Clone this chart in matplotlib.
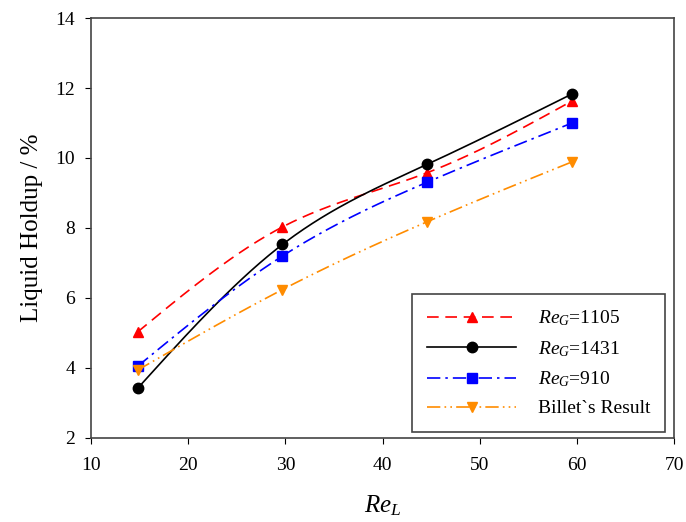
import matplotlib.pyplot as plt
import numpy as np

plt.rcParams['font.family'] = ['Liberation Serif', 'DejaVu Serif']
plt.rcParams['mathtext.fontset'] = 'custom'
plt.rcParams['mathtext.rm'] = 'Liberation Serif'
plt.rcParams['mathtext.it'] = 'Liberation Serif:italic'

# Liquid Reynolds number
re_l = [14.8, 29.7, 44.6, 59.5]
# Liquid holdup (%) for each gas Reynolds number
hold_1105 = [5.03, 8.03, 9.58, 11.63]
hold_1431 = [3.42, 7.53, 9.82, 11.83]
hold_910 = [4.05, 7.20, 9.31, 11.00]
hold_billet = [3.94, 6.24, 8.18, 9.89]


def spline(x, y, n=200):
    # natural cubic spline for a smooth curve through the points
    x = np.asarray(x, float)
    y = np.asarray(y, float)
    k = len(x)
    h = np.diff(x)
    A = np.zeros((k, k))
    b = np.zeros(k)
    A[0, 0] = A[-1, -1] = 1
    for i in range(1, k - 1):
        A[i, i - 1] = h[i - 1]
        A[i, i] = 2 * (h[i - 1] + h[i])
        A[i, i + 1] = h[i]
        b[i] = 6 * ((y[i + 1] - y[i]) / h[i] - (y[i] - y[i - 1]) / h[i - 1])
    m = np.linalg.solve(A, b)
    xs = np.linspace(x[0], x[-1], n)
    j = np.clip(np.searchsorted(x, xs) - 1, 0, k - 2)
    t0 = x[j + 1] - xs
    t1 = xs - x[j]
    hj = h[j]
    ys = (m[j] * t0**3 + m[j + 1] * t1**3) / (6 * hj) \
        + (y[j] / hj - m[j] * hj / 6) * t0 + (y[j + 1] / hj - m[j + 1] * hj / 6) * t1
    return xs, ys


fig = plt.figure(figsize=(6.86, 5.22), dpi=100)
ax = fig.add_axes([0.1327, 0.161, 0.85, 0.8045])

series = [
    (hold_1105, 'red', (0, (7, 4)), '^', '$Re_G$=1105'),
    (hold_1431, 'black', '-', 'o', '$Re_G$=1431'),
    (hold_910, 'blue', (0, (8, 3, 1.5, 3)), 's', '$Re_G$=910'),
    (hold_billet, 'darkorange', (0, (8, 2.5, 1, 2.5, 1, 2.5)), 'v', 'Billet`s Result'),
]
for y, c, ls, mk, lab in series:
    xs, ys = spline(re_l, y)
    ax.plot(xs, ys, color=c, linestyle=ls, linewidth=1.2)
    ax.plot(re_l, y, linestyle='none', marker=mk, color=c, markersize=7.5)
    ax.plot([], [], color=c, linestyle=ls, linewidth=1.2, marker=mk,
            markersize=7.5, label=lab)

ax.set_xlim(10, 70)
ax.set_ylim(2, 14)
ax.set_xticks(np.arange(10, 71, 10))
ax.set_yticks(np.arange(2, 15, 2))
ax.tick_params(direction='out', length=4, labelsize=14, top=False, right=False)
ax.tick_params(axis='x', pad=10)
ax.tick_params(axis='y', pad=7.5)
for s in ax.spines.values():
    s.set_linewidth(1.2)
    s.set_color('#444444')

ax.set_xlabel('$Re_L$', fontsize=18, labelpad=14)
ax.set_ylabel('Liquid Holdup / %', fontsize=18, labelpad=9)

leg = ax.legend(loc='lower right', bbox_to_anchor=(0.984, 0.014), borderaxespad=0,
                fontsize=14, handlelength=4.6, fancybox=False, edgecolor='#444444',
                framealpha=1, borderpad=0.75, labelspacing=0.55, handletextpad=1.1)
leg.get_frame().set_linewidth(1.2)

fig.savefig('out.png', dpi=100)
